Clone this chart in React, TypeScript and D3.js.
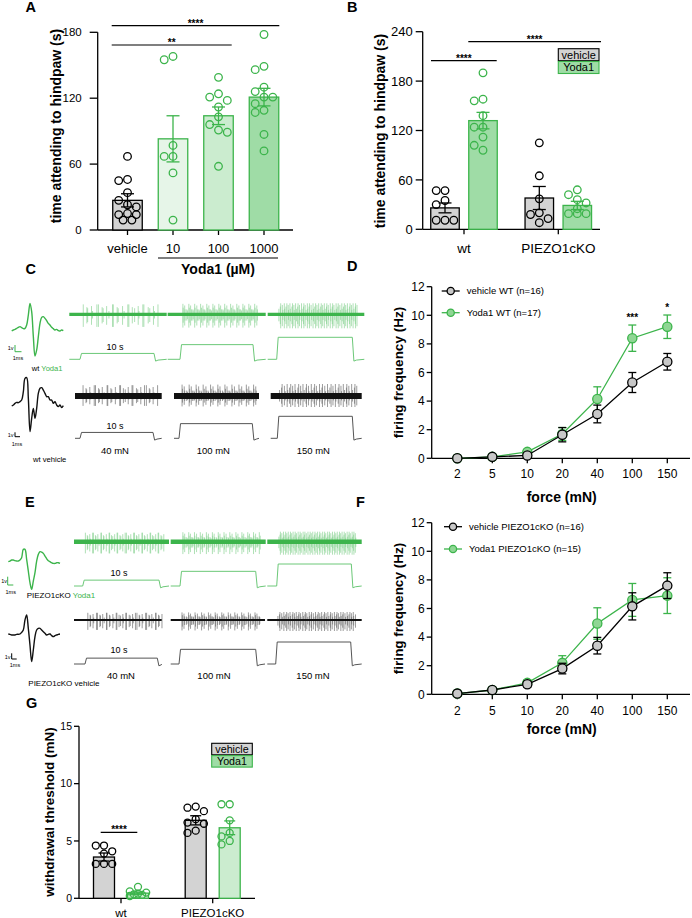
import React from "react";
import * as d3 from "d3";

const FONT = "'Liberation Sans', Arial, Helvetica, sans-serif";
const GREEN = "#3cb44b";
const STEP_GREEN = "#6cc878";
const GRAY = "#d3d3d3";
const G_LIGHT = "#e6f5e8";
const G_MID = "#cbeccf";
const G_DARK = "#9fdca6";

// ---------- panel A ----------
const aCategories = ["vehicle", "10", "100", "1000"];
const aMeans = [27, 83, 104, 121];
const aSems = [6, 21, 8, 8];
const aPoints = [
  [67, 46, 45, 34, 27, 21, 23, 15, 14, 14, 9, 9],
  [158, 155, 77, 67, 67, 52, 9],
  [139, 118, 121, 124, 112, 103, 96, 91, 89, 58],
  [178, 146, 149, 130, 126, 121, 121, 115, 109, 107, 87, 72],
];
const aTicks = [0, 60, 120, 180];

// ---------- panel B ----------
const bGroups = ["wt", "PIEZO1cKO"];
const bTreat = ["vehicle", "Yoda1"];
const bMeans = [26, 132, 38, 29];
const bSems = [6, 10, 14, 5];
const bPoints = [
  [47, 47, 35, 30, 11, 11, 11],
  [190, 158, 156, 138, 124, 124, 112, 102, 96],
  [105, 65, 37, 20, 18, 13, 8],
  [42, 48, 36, 32, 25, 19, 19, 19],
];
const bTicks = [0, 60, 120, 180, 240];

// ---------- panels D / F ----------
const forces = ["2", "5", "10", "20", "40", "100", "150"];
const freqTicks = [0, 2, 4, 6, 8, 10, 12];
const dVehMean = [0, 0.1, 0.2, 1.65, 3.1, 5.3, 6.75];
const dVehSem = [0, 0.05, 0.15, 0.5, 0.62, 0.7, 0.58];
const dYodaMean = [0, 0.1, 0.45, 1.7, 4.15, 8.4, 9.2];
const dYodaSem = [0, 0.05, 0.15, 0.45, 0.85, 0.92, 0.82];
const fVehMean = [0.05, 0.3, 0.7, 1.8, 3.4, 6.15, 7.6];
const fVehSem = [0.05, 0.1, 0.2, 0.37, 0.58, 0.95, 0.9];
const fYodaMean = [0.05, 0.3, 0.8, 2.2, 4.95, 6.6, 6.9];
const fYodaSem = [0.05, 0.1, 0.2, 0.5, 1.1, 1.15, 1.25];
const dLegend = ["vehicle WT (n=16)", "Yoda1 WT (n=17)"];
const fLegend = ["vehicle PIEZO1cKO (n=16)", "Yoda1 PIEZO1cKO (n=15)"];
const dStars = [{ force: "100", text: "***", top: 9.35 }, { force: "150", text: "*", top: 10 }];

// ---------- panel G ----------
const gMeans = [3.6, 0.45, 6.8, 6.15];
const gSems = [0.35, 0.1, 0.4, 0.6];
const gPoints = [
  [4.6, 4.6, 4.1, 3.9, 3.0, 3.0, 3.0],
  [1.0, 0.6, 0.5, 0.4, 0.3, 0.2, 0.35],
  [8.0, 7.9, 7.6, 6.9, 6.6, 6.5, 5.9, 5.7],
  [8.2, 8.2, 6.8, 5.7, 5.4, 5.0, 4.7],
];
const gTicks = [0, 5, 10, 15];

// ---------- traces (C / E) ----------
const traceForceLabels = ["40 mN", "100 mN", "150 mN"];
const traceForces = [40, 100, 150];
const wtYodaSpikes = [30, 76, 82];
const wtVehSpikes = [36, 64, 58];
const koYodaSpikes = [58, 80, 95];
const koVehSpikes = [46, 72, 74];
const spikeAmps = [0.9, 0.45, 1, 0.65, 0.35, 0.85, 0.55, 0.95, 0.4, 0.75, 0.6, 1, 0.3, 0.8, 0.5, 0.9, 0.45, 0.7];
const spikeJitter = [0, 0.4, -0.3, 0.2, -0.4, 0.3, -0.1, 0.35, -0.25, 0.1];
const wfWtYoda = [-3, 0, 2, 5, 8, 10, 7, 4, 5, 15, 45, 80, 55, -20, -78, -60, -20, 20, 38, 40, 35, 28, 20, 15, 8, 4, 0, 2, -2, -3, 0, -2];
const wfWtVeh = [-3, 0, 5, 8, 7, 10, 15, 40, 80, 82, 20, -80, -40, -10, -40, -10, 35, 50, 52, 45, 35, 25, 25, 15, 15, 5, 10, 0, -5, 0, -8, -2];
const wfKoYoda = [3, 5, 8, 8, 6, 5, 5, 8, 15, 40, 40, 10, -25, -60, -80, -55, -30, 5, 25, 33, 32, 28, 20, 12, 6, 3, 0, -2, -2, 0, 0, -2];
const wfKoVeh = [3, 2, 0, 0, 0, 2, 2, 3, 8, 15, 45, 60, 20, -30, -80, -45, -5, 15, 20, 20, 15, 10, 5, 0, 2, 3, -2, -5, -2, 0, 2, 3];

type Bar = { cx: number; w: number; mean: number; sem: number; fill: string; stroke: string; pts: number[] };

// simple beeswarm: offsets inside the bar width, least overlap when crowded
function swarm(values: number[], y: (v: number) => number, d: number, maxOff: number) {
  const placed: { x: number; y: number }[] = [];
  const out: number[] = new Array(values.length).fill(0);
  const cands = [0, -1, 1, -0.5, 0.5, -1.5, 1.5, -2, 2, -2.5, 2.5, -3, 3]
    .map((c) => c * d)
    .filter((c) => Math.abs(c) <= maxOff);
  values
    .map((v, i) => ({ v, i }))
    .sort((a, b) => b.v - a.v)
    .forEach(({ v, i }) => {
      const py = y(v);
      let chosen = 0;
      let bestDist = -1;
      for (const px of cands) {
        const md = placed.length ? Math.min(...placed.map((p) => Math.hypot(p.x - px, p.y - py))) : Infinity;
        if (md >= d * 0.97) {
          chosen = px;
          bestDist = Infinity;
          break;
        }
        if (md > bestDist) {
          bestDist = md;
          chosen = px;
        }
      }
      placed.push({ x: chosen, y: py });
      out[i] = chosen;
    });
  return out;
}

function YAxis({ x, scale, ticks, fs, len, gap }: any) {
  return (
    <g>
      <line x1={x} x2={x} y1={scale(ticks[0])} y2={scale(ticks[ticks.length - 1])} stroke="#000" strokeWidth={1.3} />
      {ticks.map((t: number) => (
        <g key={t}>
          <line x1={x - len} x2={x} y1={scale(t)} y2={scale(t)} stroke="#000" strokeWidth={1.3} />
          <text x={x - len - gap} y={scale(t)} dy="0.36em" textAnchor="end" fontSize={fs}>
            {t}
          </text>
        </g>
      ))}
    </g>
  );
}

function XAxis({ x0, x1, y, ticks, labels, fs, ly }: any) {
  return (
    <g>
      <line x1={x0} x2={x1} y1={y} y2={y} stroke="#000" strokeWidth={1.3} />
      {ticks.map((t: number, i: number) => (
        <g key={i}>
          <line x1={t} x2={t} y1={y} y2={y + 5} stroke="#000" strokeWidth={1.3} />
          <text x={t} y={ly} textAnchor="middle" fontSize={fs}>
            {labels[i]}
          </text>
        </g>
      ))}
    </g>
  );
}

function Bars({ y, bars, r, cap }: { y: any; bars: Bar[]; r: number; cap: number }) {
  return (
    <g>
      {bars.map((b, i) => {
        const offs = swarm(b.pts, y, 2 * r + 1.2, b.w / 2 - r + 1.5);
        return (
          <g key={i}>
            <rect x={b.cx - b.w / 2} y={y(b.mean)} width={b.w} height={y(0) - y(b.mean)} fill={b.fill} stroke={b.stroke} strokeWidth={1.3} />
            <line x1={b.cx} x2={b.cx} y1={y(b.mean - b.sem)} y2={y(b.mean + b.sem)} stroke={b.stroke} strokeWidth={1.3} />
            <line x1={b.cx - cap} x2={b.cx + cap} y1={y(b.mean + b.sem)} y2={y(b.mean + b.sem)} stroke={b.stroke} strokeWidth={1.3} />
            <line x1={b.cx - cap} x2={b.cx + cap} y1={y(b.mean - b.sem)} y2={y(b.mean - b.sem)} stroke={b.stroke} strokeWidth={1.3} />
            {b.pts.map((v, k) => (
              <circle key={k} cx={b.cx + offs[k]} cy={y(v)} r={r} fill="none" stroke={b.stroke} strokeWidth={1.3} />
            ))}
          </g>
        );
      })}
    </g>
  );
}

function Sig({ x1, x2, y, text }: any) {
  return (
    <g>
      <line x1={x1} x2={x2} y1={y} y2={y} stroke="#000" strokeWidth={1.2} />
      <text x={(x1 + x2) / 2} y={y + 0.8} textAnchor="middle" fontSize={10} fontWeight="bold">
        {text}
      </text>
    </g>
  );
}

function LegendBoxes({ x, y, w, h, fs }: any) {
  return (
    <g>
      {bTreat.map((t, i) => (
        <g key={t}>
          <rect x={x} y={y + i * (h + 0.8)} width={w} height={h} fill={i === 0 ? GRAY : G_DARK} stroke={i === 0 ? "#000" : GREEN} strokeWidth={1.1} />
          <text x={x + w / 2} y={y + i * (h + 0.8) + h / 2} dy="0.36em" textAnchor="middle" fontSize={fs}>
            {t}
          </text>
        </g>
      ))}
    </g>
  );
}

function FreqPanel({ top, bottom, veh, vehSem, yoda, yodaSem, legend, legendY, legendX, stars, tickY, titleY }: any) {
  const x = d3.scalePoint<string>().domain(forces).range([457.3, 667.3]);
  const y = d3.scaleLinear().domain([0, 12]).range([bottom, top]);
  const line = d3.line<number>().x((_, i) => x(forces[i]) as number).y((v) => y(v));
  const series = [
    { m: yoda, s: yodaSem, stroke: GREEN, fill: "#8fd694" },
    { m: veh, s: vehSem, stroke: "#000", fill: "#c8c8c8" },
  ];
  return (
    <g>
      <YAxis x={431.7} scale={y} ticks={freqTicks} fs={12} len={5} gap={2} />
      <XAxis x0={431.7} x1={690} y={bottom} ticks={forces.map((f) => x(f))} labels={forces} fs={12} ly={tickY} />
      <text x={561.7} y={titleY} textAnchor="middle" fontSize={14} fontWeight="bold">
        force (mN)
      </text>
      <text transform={`translate(403,${(top + bottom) / 2}) rotate(-90)`} textAnchor="middle" fontSize={13.5} fontWeight="bold">
        firing frequency (Hz)
      </text>
      {series.map((s, si) => (
        <g key={si}>
          <path d={line(s.m) as string} fill="none" stroke={s.stroke} strokeWidth={1.3} />
          {s.m.map((v: number, i: number) => {
            const cx = x(forces[i]) as number;
            const e = s.s[i];
            return (
              <g key={i}>
                <line x1={cx} x2={cx} y1={y(v - e)} y2={y(v + e)} stroke={s.stroke} strokeWidth={1.3} />
                <line x1={cx - 4} x2={cx + 4} y1={y(v + e)} y2={y(v + e)} stroke={s.stroke} strokeWidth={1.3} />
                <line x1={cx - 4} x2={cx + 4} y1={y(v - e)} y2={y(v - e)} stroke={s.stroke} strokeWidth={1.3} />
              </g>
            );
          })}
          {s.m.map((v: number, i: number) => (
            <circle key={"c" + i} cx={x(forces[i]) as number} cy={y(v)} r={4.6} fill={s.fill} stroke={s.stroke} strokeWidth={1.3} />
          ))}
        </g>
      ))}
      {legend.map((l: string, i: number) => {
        const s = series[1 - i];
        const ly = legendY[i];
        return (
          <g key={l}>
            <line x1={legendX} x2={legendX + 18} y1={ly} y2={ly} stroke={s.stroke} strokeWidth={1.3} />
            <circle cx={legendX + 9} cy={ly} r={3.6} fill={s.fill} stroke={s.stroke} strokeWidth={1.3} />
            <text x={legendX + 25} y={ly} dy="0.36em" fontSize={9.5}>
              {l}
            </text>
          </g>
        );
      })}
      {stars.map((s: any) => (
        <text key={s.force} x={x(s.force) as number} y={y(s.top) - 4} textAnchor="middle" fontSize={10} fontWeight="bold">
          {s.text}
        </text>
      ))}
    </g>
  );
}

type Seg = [number, number, number, number];
function TraceRow({ color, spikeColor, stepColor, base, band, up, down, segs, counts, stepBase, tenS }: any) {
  const h = d3.scaleLinear().domain([0, 150]).range([0, 22]);
  const stepLine = d3.line();
  return (
    <g>
      {segs.map((s: Seg, i: number) => {
        const [x0, x1, on, off] = s;
        const n = counts[i];
        const sx = d3.scaleLinear().domain([0, n]).range([on + 2, off + 4]);
        let dp = "";
        d3.range(n).forEach((k) => {
          const a = spikeAmps[(k * 3 + i * 7) % spikeAmps.length];
          const xx = sx(k + 0.5 + spikeJitter[(k + i) % spikeJitter.length]);
          dp += `M${xx.toFixed(2)},${(base - up * a).toFixed(2)}V${(base + down * a).toFixed(2)}`;
        });
        const hh = h(traceForces[i]);
        const pts: [number, number][] = [
          [x0, stepBase],
          [on, stepBase],
          [on + 1.5, stepBase - hh],
          [off - 1, stepBase - hh],
          [off + 0.6, stepBase + 1.8],
          [off + 3, stepBase + 0.8],
          [x1, stepBase],
        ];
        return (
          <g key={i}>
            <path d={dp} stroke={spikeColor} strokeWidth={0.65} opacity={0.75} />
            <line x1={x0} x2={x1} y1={base} y2={base} stroke={color} strokeWidth={band} />
            <path d={stepLine(pts) as string} fill="none" stroke={stepColor} strokeWidth={1} />
          </g>
        );
      })}
      <text x={tenS[0]} y={tenS[1]} textAnchor="middle" fontSize={9}>
        10 s
      </text>
    </g>
  );
}

function Waveform({ data, x0, x1, base, color }: any) {
  const x = d3.scaleLinear().domain([0, data.length - 1]).range([x0, x1]);
  const y = d3.scaleLinear().domain([-100, 100]).range([base + 33.3, base - 33.3]);
  const line = d3.line<number>().x((_, i) => x(i)).y((v) => y(v)).curve(d3.curveCatmullRom);
  return <path d={line(data) as string} fill="none" stroke={color} strokeWidth={1.4} />;
}

function ScaleBar({ x, y1, y2, w, color, vx, vy, mx, my }: any) {
  return (
    <g fontSize={5.5}>
      <path d={`M${x},${y1}V${y2}H${x + w}`} fill="none" stroke={color} strokeWidth={1} />
      <text x={vx} y={vy} textAnchor="end">1v</text>
      <text x={mx} y={my} textAnchor="middle">1ms</text>
    </g>
  );
}

export default function App() {
  // A
  const yA = d3.scaleLinear().domain([0, 180]).range([230, 32.3]);
  const xA = d3.scalePoint<string>().domain(aCategories).range([104.75, 286.75]).padding(0.5);
  const aFills = [GRAY, G_LIGHT, G_MID, G_DARK];
  const aBars: Bar[] = aCategories.map((c, i) => ({
    cx: xA(c) as number, w: 29.5, mean: aMeans[i], sem: aSems[i], fill: aFills[i], stroke: i === 0 ? "#000" : GREEN, pts: aPoints[i],
  }));
  // B
  const yB = d3.scaleLinear().domain([0, 240]).range([229.3, 31.7]);
  const xB = d3.scalePoint<string>().domain(bGroups).range([416.85, 605.45]).padding(0.5);
  const bBars: Bar[] = bMeans.map((m, i) => {
    const g = bGroups[Math.floor(i / 2)];
    const t = i % 2;
    return { cx: (xB(g) as number) + (t === 0 ? -19 : 19), w: 28.5, mean: m, sem: bSems[i], fill: t === 0 ? GRAY : G_DARK, stroke: t === 0 ? "#000" : GREEN, pts: bPoints[i] };
  });
  // G
  const yG = d3.scaleLinear().domain([0, 15]).range([898.3, 726.3]);
  const xG = d3.scalePoint<string>().domain(bGroups).range([75.15, 258.55]).padding(0.5);
  const gFills = [GRAY, G_MID, GRAY, G_MID];
  const gBars: Bar[] = gMeans.map((m, i) => {
    const g = bGroups[Math.floor(i / 2)];
    const t = i % 2;
    return { cx: (xG(g) as number) + (t === 0 ? -17 : 17), w: 21, mean: m, sem: gSems[i], fill: gFills[i], stroke: t === 0 ? "#000" : GREEN, pts: gPoints[i] };
  });

  const bold = { fontWeight: "bold" as const };
  return (
    <svg width={692} height={918} style={{ position: "absolute", left: 0, top: 0, background: "#fff" }} fontFamily={FONT}>
      <rect width={692} height={918} fill="#fff" />
      {/* panel letters */}
      <g fontSize={14.5} {...bold}>
        <text x={25.5} y={12}>A</text>
        <text x={347} y={12}>B</text>
        <text x={25.5} y={274}>C</text>
        <text x={347} y={270.5}>D</text>
        <text x={25} y={506.5}>E</text>
        <text x={356} y={506.5}>F</text>
        <text x={26} y={708}>G</text>
      </g>

      {/* ---- A ---- */}
      <YAxis x={97.7} scale={yA} ticks={aTicks} fs={11.5} len={8} gap={8} />
      <XAxis x0={97.7} x1={293} y={230} ticks={aCategories.map((c) => xA(c))} labels={aCategories} fs={13} ly={252.7} />
      <Bars y={yA} bars={aBars} r={3.8} cap={6.5} />
      <text transform={`translate(61,126) rotate(-90)`} textAnchor="middle" fontSize={14} {...bold}>
        time attending to hindpaw (s)
      </text>
      <line x1={158} x2={278} y1={258} y2={258} stroke="#000" strokeWidth={1.2} />
      <text x={218} y={273.5} textAnchor="middle" fontSize={14} {...bold}>Yoda1 (µM)</text>
      <Sig x1={111.7} x2={279.3} y={25.7} text="****" />
      <Sig x1={111.7} x2={231.7} y={45} text="**" />

      {/* ---- B ---- */}
      <YAxis x={422.7} scale={yB} ticks={bTicks} fs={13} len={7} gap={3} />
      <XAxis x0={422.7} x1={600} y={229.3} ticks={bGroups.map((g) => xB(g))} labels={bGroups} fs={13.5} ly={253} />
      <Bars y={yB} bars={bBars} r={3.8} cap={6.5} />
      <text transform={`translate(385,131) rotate(-90)`} textAnchor="middle" fontSize={14} {...bold}>
        time attending to hindpaw (s)
      </text>
      <Sig x1={431} x2={496.7} y={60.7} text="****" />
      <Sig x1={468.3} x2={601} y={41.7} text="****" />
      <LegendBoxes x={558.3} y={48.7} w={40.7} h={12} fs={11} />

      {/* ---- C traces ---- */}
      <Waveform data={wfWtYoda} x0={11.7} x1={63.3} base={330} color={GREEN} />
      <ScaleBar x={15} y1={345} y2={351.7} w={6.5} color={GREEN} vx={13.5} vy={350} mx={18} my={359.5} />
      <text x={31.7} y={370.5} fontSize={7.6}>
        wt <tspan fill={GREEN}>Yoda1</tspan>
      </text>
      <TraceRow color={GREEN} spikeColor="#5cc26a" stepColor={STEP_GREEN} base={314.3} band={3.3} up={11} down={14} stepBase={359.3}
        segs={[[69.3, 166.7, 80, 155], [167.7, 265.7, 180, 254], [267.7, 364.3, 276.7, 353.3]]} counts={wtYodaSpikes} tenS={[115, 350]} />
      <Waveform data={wfWtVeh} x0={11.7} x1={63.3} base={405} color="#111" />
      <ScaleBar x={15} y1={432.3} y2={436.7} w={5} color="#000" vx={13.5} vy={437} mx={17} my={445.5} />
      <text x={33} y={461.5} fontSize={7.6}>wt vehicle</text>
      <TraceRow color="#111" spikeColor="#333" stepColor="#555" base={396} band={6} up={12} down={11} stepBase={438.3}
        segs={[[75, 161.7, 80, 154], [174, 259, 179, 253.3], [270.7, 361.7, 277.3, 353.3]]} counts={wtVehSpikes} tenS={[115, 429]} />
      <g fontSize={9.5}>
        {traceForceLabels.map((l, i) => (
          <text key={l} x={[115, 213.3, 313.3][i]} y={453.5} textAnchor="middle">{l}</text>
        ))}
      </g>

      {/* ---- D ---- */}
      <FreqPanel top={286.7} bottom={458.3} veh={dVehMean} vehSem={dVehSem} yoda={dYodaMean} yodaSem={dYodaSem}
        legend={dLegend} legendY={[291, 312.7]} legendX={441.7} stars={dStars} tickY={477.6} titleY={501.7} />

      {/* ---- E traces ---- */}
      <Waveform data={wfKoYoda} x0={8.3} x1={60} base={562.7} color={GREEN} />
      <ScaleBar x={7.7} y1={576.7} y2={585} w={5.6} color={GREEN} vx={7} vy={582.5} mx={10.7} my={593.5} />
      <text x={26.7} y={598} fontSize={8}>
        PIEZO1cKO <tspan fill={GREEN}>Yoda1</tspan>
      </text>
      <TraceRow color={GREEN} spikeColor="#5cc26a" stepColor={STEP_GREEN} base={541.7} band={4.5} up={10} down={13} stepBase={586}
        segs={[[74, 169, 82.7, 160], [170.7, 265.7, 180, 256.7], [267.3, 361.7, 276.7, 352.3]]} counts={koYodaSpikes} tenS={[119, 576]} />
      <Waveform data={wfKoVeh} x0={8.3} x1={60} base={635} color="#111" />
      <ScaleBar x={11.7} y1={653.3} y2={659} w={5} color="#000" vx={10.5} vy={658.5} mx={15} my={666.5} />
      <text x={28.3} y={686} fontSize={8}>PIEZO1cKO vehicle</text>
      <TraceRow color="#111" spikeColor="#333" stepColor="#555" base={620} band={2} up={8} down={11} stepBase={664}
        segs={[[74, 161.7, 85, 158.3], [170.7, 265, 179, 256.7], [267.3, 361.7, 275.7, 351.7]]} counts={koVehSpikes} tenS={[119, 653]} />
      <g fontSize={9.5}>
        {traceForceLabels.map((l, i) => (
          <text key={l} x={[121, 214, 313][i]} y={678.5} textAnchor="middle">{l}</text>
        ))}
      </g>

      {/* ---- F ---- */}
      <FreqPanel top={522.7} bottom={694.3} veh={fVehMean} vehSem={fVehSem} yoda={fYodaMean} yodaSem={fYodaSem}
        legend={fLegend} legendY={[526.7, 549]} legendX={444} stars={[]} tickY={715.3} titleY={734} />

      {/* ---- G ---- */}
      <YAxis x={79} scale={yG} ticks={gTicks} fs={10.5} len={5} gap={2} />
      <XAxis x0={79} x1={255} y={898.3} ticks={bGroups.map((g) => xG(g))} labels={bGroups} fs={11.5} ly={917.3} />
      <Bars y={yG} bars={gBars} r={3.5} cap={5.5} />
      <text transform={`translate(54,812) rotate(-90)`} textAnchor="middle" fontSize={13.5} {...bold}>
        withdrawal threshold (mN)
      </text>
      <Sig x1={100.7} x2={137.3} y={832.3} text="****" />
      <LegendBoxes x={211.7} y={743.3} w={40.6} h={11.5} fs={10.7} />
    </svg>
  );
}
